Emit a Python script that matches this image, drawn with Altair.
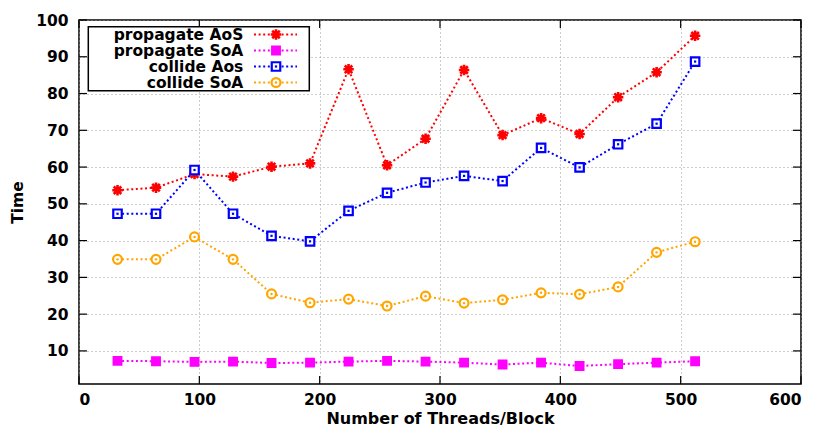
import altair as alt
import pandas as pd

threads = [32, 64, 96, 128, 160, 192, 224, 256, 288, 320, 352, 384, 416, 448, 480, 512]
prop_aos = [53.7, 54.4, 58.1, 57.4, 60.1, 61.0, 86.6, 60.5, 67.7, 86.4, 68.7, 73.3, 69.0, 79.0, 85.8, 95.7]
prop_soa = [7.3, 7.2, 7.0, 7.1, 6.7, 6.8, 7.1, 7.3, 7.1, 6.8, 6.3, 6.8, 5.9, 6.4, 6.8, 7.2]
coll_aos = [47.3, 47.3, 59.2, 47.3, 41.3, 39.8, 48.1, 53.0, 55.8, 57.6, 56.2, 65.2, 59.9, 66.2, 71.8, 88.7]
coll_soa = [34.9, 34.9, 41.0, 34.9, 25.5, 23.1, 24.1, 22.2, 24.9, 23.0, 23.9, 25.8, 25.4, 27.4, 36.8, 39.7]
series_names = ["propagate AoS", "propagate SoA", "collide Aos", "collide SoA"]
x_ticks = [0, 100, 200, 300, 400, 500, 600]
y_ticks = [10, 20, 30, 40, 50, 60, 70, 80, 90, 100]

FONT = "DejaVu Sans"
W, H = 722, 364
ASTERISK = "M-1,0L1,0M0,-1L0,1M-0.72,-0.72L0.72,0.72M-0.72,0.72L0.72,-0.72"

xs = alt.Scale(domain=[0, 600], nice=False, zero=False)
ys = alt.Scale(domain=[1, 100], nice=False, zero=False)
xaxis = alt.Axis(values=x_ticks, title="Number of Threads/Block", grid=True, ticks=False,
                 tickSize=0, domain=False, labelPadding=8, titlePadding=3, titleFontSize=16)
yaxis = alt.Axis(values=y_ticks, title="Time", grid=True, ticks=False, tickSize=0,
                 domain=False, labelPadding=11, titlePadding=10)

def X():
    return alt.X("x:Q", scale=xs, axis=xaxis)

def Y():
    return alt.Y("y:Q", scale=ys, axis=yaxis)

layers = []

# inward ticks (gnuplot style, mirrored)
xt = pd.DataFrame({"x": x_ticks})
yt = pd.DataFrame({"y": y_ticks})
tick_style = dict(color="black", strokeWidth=1.2)
layers.append(alt.Chart(xt).mark_rule(**tick_style).encode(x=X(), y=alt.value(H), y2=alt.value(H - 8)))
layers.append(alt.Chart(xt).mark_rule(**tick_style).encode(x=X(), y=alt.value(0), y2=alt.value(8)))
layers.append(alt.Chart(yt).mark_rule(**tick_style).encode(y=Y(), x=alt.value(0), x2=alt.value(8)))
layers.append(alt.Chart(yt).mark_rule(**tick_style).encode(y=Y(), x=alt.value(W), x2=alt.value(W - 8)))

specs = [
    (series_names[0], prop_aos, "#ff0000", "asterisk"),
    (series_names[1], prop_soa, "#ff00ff", "fsquare"),
    (series_names[2], coll_aos, "#0000ff", "osquare"),
    (series_names[3], coll_soa, "#ffa500", "ocircle"),
]

DASH = [2, 2.6]

def point_marks(kind, color):
    if kind == "asterisk":
        return [dict(shape=ASTERISK, filled=False, stroke=color, strokeWidth=2.6, size=110, opacity=1)]
    if kind == "fsquare":
        return [dict(shape="square", filled=True, fill=color, stroke=color, strokeWidth=1.5, size=70, opacity=1)]
    if kind == "osquare":
        return [dict(shape="square", fill="white", fillOpacity=1, stroke=color, strokeWidth=2.2, size=72, opacity=1),
                dict(shape="square", filled=True, fill=color, size=5, opacity=1)]
    return [dict(shape="circle", fill="white", fillOpacity=1, stroke=color, strokeWidth=2.2, size=80, opacity=1),
            dict(shape="circle", filled=True, fill=color, size=6, opacity=1)]

for name, vals, color, kind in specs:
    df = pd.DataFrame({"x": threads, "y": vals})
    layers.append(alt.Chart(df).mark_line(color=color, strokeWidth=2, strokeDash=DASH).encode(x=X(), y=Y()))
    for pm in point_marks(kind, color):
        layers.append(alt.Chart(df).mark_point(**pm).encode(x=X(), y=Y()))

# legend (gnuplot style: label right-aligned, then line sample with marker)
box = pd.DataFrame({"k": [0]})
layers.append(alt.Chart(box).mark_rect(fill="white", stroke="black", strokeWidth=1.5).encode(
    x=alt.value(9.3), x2=alt.value(230.3), y=alt.value(6.7), y2=alt.value(70.7)))
for i, (name, vals, color, kind) in enumerate(specs):
    row = pd.DataFrame({"name": [name]})
    yy = 14.5 + 16 * i
    layers.append(alt.Chart(row).mark_text(align="right", baseline="middle", font=FONT,
                                           fontWeight="bold", fontSize=15.5, color="black").encode(
        text="name:N", x=alt.value(164.3), y=alt.value(yy)))
    layers.append(alt.Chart(row).mark_rule(color=color, strokeWidth=2, strokeDash=DASH).encode(
        x=alt.value(175), x2=alt.value(218), y=alt.value(yy)))
    for pm in point_marks(kind, color):
        layers.append(alt.Chart(row).mark_point(**pm).encode(x=alt.value(197), y=alt.value(yy)))

chart = alt.layer(*layers).properties(
    width=W, height=H, autosize="none",
    padding={"left": 71, "top": 12, "right": 21, "bottom": 44},
).configure_view(stroke="black", strokeWidth=1.5).configure_axis(
    labelFont=FONT, labelFontSize=15.5, labelFontWeight="bold", labelColor="black",
    titleFont=FONT, titleFontSize=15.5, titleFontWeight="bold", titleColor="black",
    gridColor="#9a9a9a", gridDash=[1, 3], gridWidth=1,
)

chart.save("out.html", embed_options={"renderer": "svg", "actions": False})
